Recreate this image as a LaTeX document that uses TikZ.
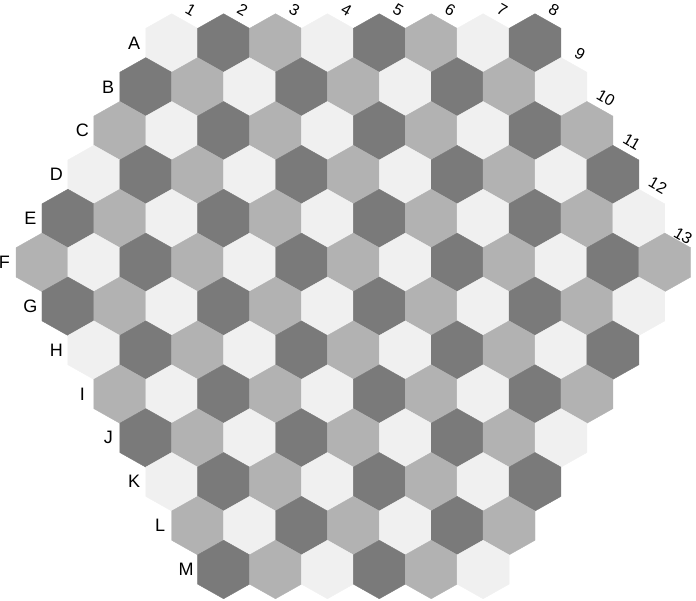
\documentclass[tikz,border=0pt]{standalone}
\usepackage{fontspec}
\setmainfont{Liberation Sans}
\definecolor{hexdark}{gray}{0.48}
\definecolor{hexmid}{gray}{0.70}
\definecolor{hexlight}{gray}{0.94}
\begin{document}
\begin{tikzpicture}[x=1pt,y=1pt,
  rowlab/.style={font=\fontsize{18}{18}\selectfont, inner sep=0pt, anchor=center},
  collab/.style={font=\fontsize{16}{16}\selectfont, inner sep=0pt, anchor=center, rotate=-30},
  hexcell/.style={line width=0.4pt}]
\useasboundingbox (0,0) rectangle (696,600);
% hex cells
\foreach \r in {0,...,12}{
  \pgfmathtruncatemacro\cmin{\r<=5 ? 1 : \r-4}
  \pgfmathtruncatemacro\cmax{\r<=5 ? 8+\r : 13}
  \foreach \c in {\cmin,...,\cmax}{
    \pgfmathsetmacro\cx{171.7+(\c-1)*51.9-\r*25.95}
    \pgfmathsetmacro\cy{600-43-\r*43.875}
    \pgfmathtruncatemacro\ci{mod(\c-1+\r,3)}
    \ifcase\ci \def\hcol{hexlight}\or\def\hcol{hexdark}\or\def\hcol{hexmid}\fi
    \filldraw[hexcell, fill=\hcol, draw=\hcol] (\cx,\cy+29.25) -- ++(25.95,-14.63) -- ++(0,-29.25)
      -- ++(-25.95,-14.62) -- ++(-25.95,14.62) -- ++(0,29.25) -- cycle;
  }
}
% row labels
\foreach \r/\L in {0/A,1/B,2/C,3/D,4/E,5/F,6/G,7/H,8/I,9/J,10/K,11/L,12/M}{
  \pgfmathsetmacro\fx{\r<=5 ? 171.7-\r*25.95 : 42+(\r-5)*25.95}
  \pgfmathsetmacro\ly{600-43-\r*43.875}
  \node[rowlab] (row\L) at (\fx-37.5,\ly) {\L};
}
% column labels
\foreach \c in {1,...,12}{
  \pgfmathtruncatemacro\tr{\c<=8 ? 0 : \c-8}
  \pgfmathsetmacro\tx{171.7+(\c-1)*51.9-\tr*25.95}
  \pgfmathsetmacro\ty{600-43-\tr*43.875}
  \node[collab] (col\c) at (\tx+19,\ty+33) {\c};
}
\node[collab] (col13) at (683,600-236) {13};
\end{tikzpicture}
\end{document}
